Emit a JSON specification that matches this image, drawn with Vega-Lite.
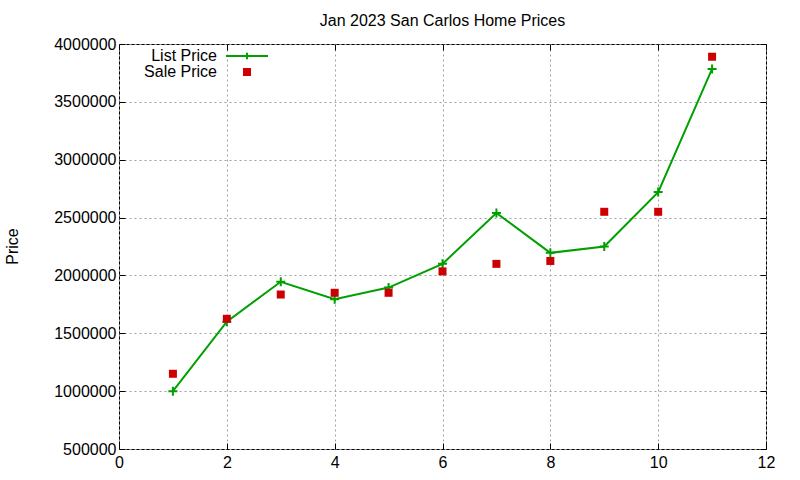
{
  "$schema": "https://vega.github.io/schema/vega-lite/v6.json",
  "width": 647,
  "height": 405,
  "autosize": {"type": "none"},
  "padding": {"left": 119, "top": 44, "right": 34, "bottom": 31},
  "background": "white",
  "title": {
    "text": "Jan 2023 San Carlos Home Prices",
    "font": "Liberation Sans",
    "fontSize": 16,
    "fontWeight": "normal",
    "color": "black",
    "anchor": "middle",
    "frame": "group",
    "baseline": "alphabetic",
    "offset": 17,
    "dy": 23
  },
  "config": {
    "font": "Liberation Sans",
    "view": {"stroke": "black", "strokeWidth": 1},
    "axis": {
      "labelFont": "Liberation Sans",
      "labelFontSize": 16,
      "labelColor": "black",
      "labelFlush": false,
      "domain": false,
      "tickColor": "black",
      "tickSize": -6,
      "tickWidth": 1,
      "gridColor": "#a0a0a0",
      "gridDash": [2, 3],
      "gridWidth": 1
    }
  },
  "data": {
    "values": [
      {"lot": 1, "series": "List Price", "price": 1000000},
      {"lot": 2, "series": "List Price", "price": 1600000},
      {"lot": 3, "series": "List Price", "price": 1945000},
      {"lot": 4, "series": "List Price", "price": 1795000},
      {"lot": 5, "series": "List Price", "price": 1895000},
      {"lot": 6, "series": "List Price", "price": 2100000},
      {"lot": 7, "series": "List Price", "price": 2540000},
      {"lot": 8, "series": "List Price", "price": 2195000},
      {"lot": 9, "series": "List Price", "price": 2250000},
      {"lot": 10, "series": "List Price", "price": 2720000},
      {"lot": 11, "series": "List Price", "price": 3785000},
      {"lot": 1, "series": "Sale Price", "price": 1150000},
      {"lot": 2, "series": "Sale Price", "price": 1625000},
      {"lot": 3, "series": "Sale Price", "price": 1835000},
      {"lot": 4, "series": "Sale Price", "price": 1850000},
      {"lot": 5, "series": "Sale Price", "price": 1850000},
      {"lot": 6, "series": "Sale Price", "price": 2035000},
      {"lot": 7, "series": "Sale Price", "price": 2100000},
      {"lot": 8, "series": "Sale Price", "price": 2125000},
      {"lot": 9, "series": "Sale Price", "price": 2550000},
      {"lot": 10, "series": "Sale Price", "price": 2550000},
      {"lot": 11, "series": "Sale Price", "price": 3890000}
    ]
  },
  "layer": [
    {
      "transform": [{"filter": "datum.series === 'List Price'"}],
      "mark": {
        "type": "line",
        "strokeWidth": 2,
        "point": {
          "shape": "M-1,0L1,0M0,-1L0,1",
          "filled": false,
          "size": 81,
          "strokeWidth": 2,
          "color": "#00a000"
        }
      },
      "encoding": {
        "x": {
          "field": "lot",
          "type": "quantitative",
          "scale": {"domain": [0, 12], "nice": false},
          "axis": {
            "orient": "bottom",
            "title": null,
            "values": [0, 2, 4, 6, 8, 10, 12],
            "labelPadding": 11,
            "grid": true
          }
        },
        "y": {
          "field": "price",
          "type": "quantitative",
          "scale": {"domain": [500000, 4000000], "nice": false, "zero": false},
          "axis": {
            "orient": "left",
            "title": "Price",
            "titleFont": "Liberation Sans",
            "titleFontSize": 16,
            "titleFontWeight": "normal",
            "titleColor": "black",
            "titleAngle": -90,
            "titleX": -107,
            "titleY": 202,
            "titleAlign": "center",
            "titleBaseline": "middle",
            "values": [500000, 1000000, 1500000, 2000000, 2500000, 3000000, 3500000, 4000000],
            "format": "d",
            "labelPadding": 9,
            "grid": true
          }
        },
        "color": {
          "field": "series",
          "type": "nominal",
          "scale": {"domain": ["List Price", "Sale Price"], "range": ["#00a000", "#cc0000"]},
          "legend": {
            "title": null,
            "orient": "none",
            "legendX": 118,
            "legendY": 2,
            "padding": 2,
            "fillColor": "white",
            "labelFont": "Liberation Sans",
            "labelFontSize": 16,
            "labelColor": "black",
            "labelAlign": "right",
            "labelOffset": -38,
            "symbolSize": 1764,
            "rowPadding": -2,
            "encode": {
              "symbols": {
                "update": {
                  "shape": {"signal": "datum.value === 'List Price' ? 'M-1,0L1,0M0,-0.16L0,0.16' : 'square'"},
                  "size": {"signal": "datum.value === 'List Price' ? 1764 : 64"},
                  "fill": {"signal": "datum.value === 'List Price' ? 'transparent' : '#cc0000'"},
                  "stroke": {"signal": "datum.value === 'List Price' ? '#00a000' : 'transparent'"},
                  "strokeWidth": {"signal": "datum.value === 'List Price' ? 2 : 0"}
                }
              }
            }
          }
        }
      }
    },
    {
      "transform": [{"filter": "datum.series === 'Sale Price'"}],
      "mark": {"type": "square", "size": 64, "filled": true, "opacity": 1},
      "encoding": {
        "x": {
          "field": "lot",
          "type": "quantitative",
          "axis": {
            "orient": "top",
            "title": null,
            "values": [0, 2, 4, 6, 8, 10, 12],
            "labels": false,
            "grid": false
          }
        },
        "y": {
          "field": "price",
          "type": "quantitative",
          "axis": {
            "orient": "right",
            "title": null,
            "values": [500000, 1000000, 1500000, 2000000, 2500000, 3000000, 3500000, 4000000],
            "labels": false,
            "grid": false
          }
        },
        "color": {"field": "series", "type": "nominal"}
      }
    }
  ],
  "resolve": {"axis": {"x": "independent", "y": "independent"}}
}
